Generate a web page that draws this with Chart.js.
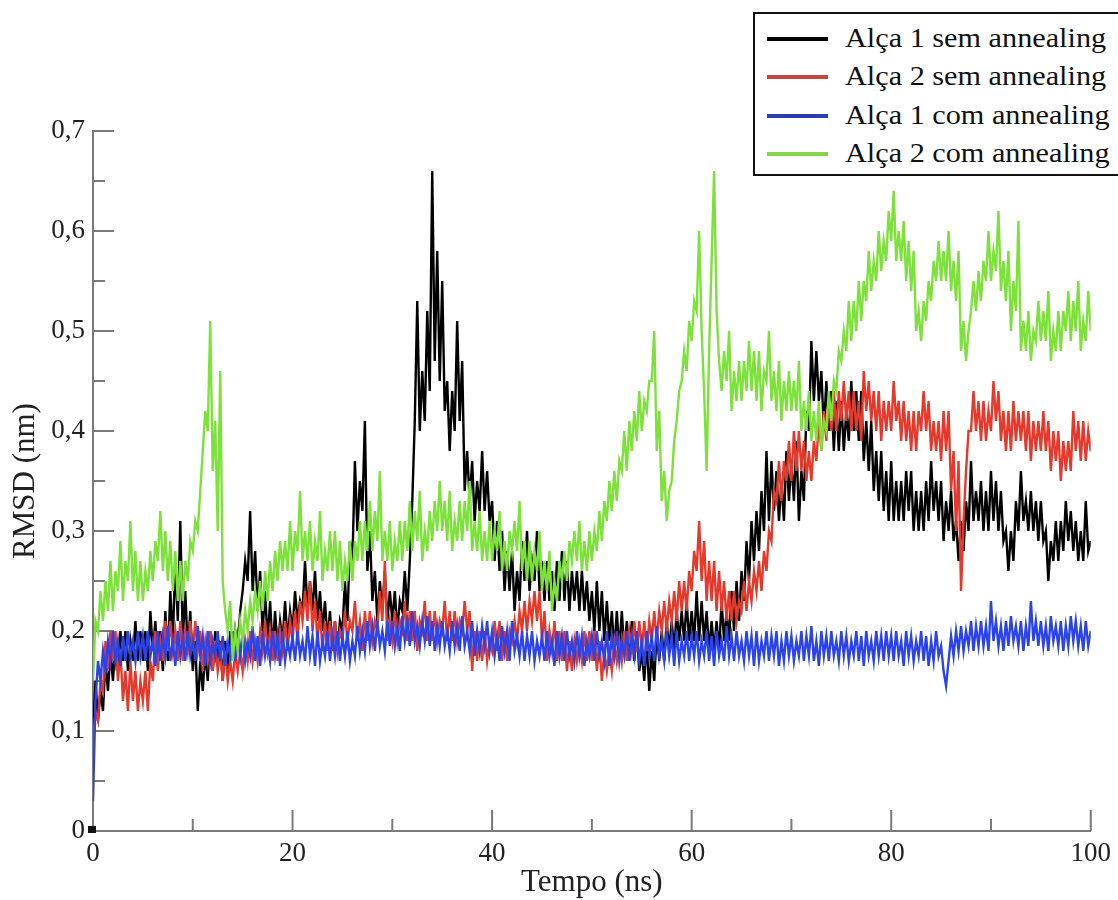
<!DOCTYPE html>
<html>
<head>
<meta charset="utf-8">
<title>RMSD das alças</title>
<script src="https://cdn.jsdelivr.net/npm/chart.js@4/dist/chart.umd.min.js"></script>
<style>
  html, body { margin: 0; padding: 0; background: #fff; overflow: hidden; }
  #wrap { position: relative; width: 1118px; height: 900px; }
  #legend {
    position: absolute; left: 753px; top: 12px; width: 420px; height: 160px;
    border: 2px solid #111; background: #fff;
    font-family: "Liberation Serif", "Times New Roman", serif; font-size: 27px; color: #111;
  }
  .row { position: absolute; left: 0; height: 38px; line-height: 38px; white-space: nowrap; }
  .row .mark { position: absolute; left: 12px; top: 18px; width: 61px; height: 4px; }
  .row .txt { position: absolute; left: 90px; top: 0; transform: scaleX(1.12); transform-origin: 0 0; }
</style>
</head>
<body>
<div id="wrap">
  <canvas id="chart"></canvas>
  <div id="legend"></div>
</div>
<script>
// time axis (ns), one sample every 0.25 ns
const times = Array.from({ length: 401 }, (_, i) => i * 0.25);

const seriesNames = ['Alça 1 sem annealing', 'Alça 2 sem annealing', 'Alça 1 com annealing', 'Alça 2 com annealing'];
const seriesColors = ['#000000', '#e5392c', '#2a44ea', '#7ce23a'];
const legendColors = ['#000000', '#c8453f', '#2a3fb0', '#86d44a'];

// RMSD (nm), one row = 5 ns
const alca1Sem = [
  0.10, 0.15, 0.11, 0.14, 0.12, 0.17, 0.14, 0.18, 0.15, 0.19, 0.16, 0.20, 0.17, 0.20, 0.16, 0.19, 0.17, 0.21, 0.17, 0.20,
  0.17, 0.20, 0.16, 0.22, 0.18, 0.21, 0.17, 0.20, 0.16, 0.22, 0.17, 0.24, 0.19, 0.27, 0.21, 0.31, 0.19, 0.24, 0.18, 0.22,
  0.16, 0.19, 0.12, 0.17, 0.14, 0.18, 0.15, 0.20, 0.16, 0.20, 0.17, 0.19, 0.15, 0.19, 0.16, 0.20, 0.17, 0.20, 0.18, 0.22,
  0.24, 0.27, 0.25, 0.32, 0.24, 0.28, 0.22, 0.26, 0.20, 0.24, 0.19, 0.23, 0.18, 0.22, 0.18, 0.21, 0.19, 0.23, 0.19, 0.22,
  0.20, 0.24, 0.21, 0.23, 0.22, 0.27, 0.22, 0.25, 0.22, 0.26, 0.21, 0.24, 0.20, 0.23, 0.19, 0.22, 0.18, 0.21, 0.18, 0.21,
  0.20, 0.25, 0.21, 0.29, 0.27, 0.37, 0.30, 0.35, 0.32, 0.41, 0.26, 0.30, 0.23, 0.26, 0.21, 0.25, 0.22, 0.26, 0.21, 0.24,
  0.21, 0.24, 0.20, 0.23, 0.22, 0.26, 0.22, 0.27, 0.33, 0.41, 0.53, 0.40, 0.46, 0.41, 0.52, 0.44, 0.66, 0.47, 0.58, 0.45,
  0.55, 0.42, 0.45, 0.38, 0.44, 0.40, 0.51, 0.41, 0.47, 0.34, 0.38, 0.33, 0.37, 0.31, 0.35, 0.32, 0.38, 0.32, 0.36, 0.31,
  0.33, 0.27, 0.31, 0.26, 0.30, 0.24, 0.28, 0.24, 0.28, 0.22, 0.26, 0.23, 0.29, 0.25, 0.30, 0.24, 0.27, 0.25, 0.30, 0.24,
  0.27, 0.23, 0.27, 0.23, 0.26, 0.22, 0.27, 0.23, 0.28, 0.23, 0.27, 0.22, 0.26, 0.23, 0.26, 0.22, 0.26, 0.22, 0.25, 0.21,
  0.24, 0.20, 0.25, 0.20, 0.24, 0.19, 0.23, 0.19, 0.22, 0.18, 0.22, 0.18, 0.22, 0.18, 0.21, 0.17, 0.21, 0.17, 0.20, 0.16,
  0.18, 0.15, 0.19, 0.14, 0.18, 0.15, 0.20, 0.17, 0.20, 0.17, 0.21, 0.18, 0.21, 0.18, 0.22, 0.19, 0.22, 0.19, 0.23, 0.19,
  0.22, 0.19, 0.24, 0.19, 0.23, 0.19, 0.22, 0.18, 0.21, 0.18, 0.21, 0.18, 0.23, 0.19, 0.22, 0.19, 0.24, 0.20, 0.25, 0.21,
  0.26, 0.23, 0.29, 0.25, 0.31, 0.27, 0.32, 0.28, 0.34, 0.30, 0.38, 0.31, 0.37, 0.32, 0.36, 0.31, 0.35, 0.31, 0.38, 0.33,
  0.37, 0.33, 0.39, 0.31, 0.36, 0.33, 0.42, 0.40, 0.49, 0.43, 0.48, 0.43, 0.46, 0.40, 0.45, 0.40, 0.44, 0.38, 0.43, 0.38,
  0.43, 0.38, 0.42, 0.39, 0.45, 0.40, 0.44, 0.39, 0.44, 0.37, 0.41, 0.36, 0.41, 0.34, 0.38, 0.33, 0.38, 0.32, 0.36, 0.31,
  0.37, 0.31, 0.35, 0.31, 0.35, 0.31, 0.36, 0.32, 0.36, 0.30, 0.34, 0.30, 0.34, 0.30, 0.35, 0.31, 0.37, 0.32, 0.35, 0.31,
  0.35, 0.29, 0.33, 0.30, 0.34, 0.29, 0.31, 0.27, 0.31, 0.28, 0.33, 0.30, 0.37, 0.31, 0.34, 0.31, 0.35, 0.30, 0.34, 0.30,
  0.36, 0.31, 0.35, 0.30, 0.34, 0.29, 0.30, 0.26, 0.30, 0.27, 0.33, 0.30, 0.36, 0.31, 0.33, 0.30, 0.34, 0.30, 0.33, 0.29,
  0.33, 0.29, 0.30, 0.25, 0.29, 0.27, 0.31, 0.27, 0.31, 0.28, 0.33, 0.29, 0.32, 0.28, 0.31, 0.27, 0.30, 0.27, 0.33, 0.28,
  0.29
];

const alca2Sem = [
  0.09, 0.12, 0.11, 0.15, 0.14, 0.19, 0.16, 0.20, 0.17, 0.20, 0.15, 0.18, 0.13, 0.16, 0.12, 0.17, 0.13, 0.16, 0.12, 0.15,
  0.13, 0.16, 0.12, 0.17, 0.15, 0.20, 0.16, 0.19, 0.17, 0.21, 0.18, 0.21, 0.18, 0.20, 0.17, 0.21, 0.17, 0.20, 0.18, 0.21,
  0.18, 0.21, 0.18, 0.20, 0.16, 0.19, 0.17, 0.20, 0.16, 0.19, 0.16, 0.18, 0.15, 0.18, 0.15, 0.17, 0.15, 0.18, 0.16, 0.18,
  0.16, 0.19, 0.17, 0.20, 0.17, 0.19, 0.17, 0.20, 0.18, 0.21, 0.18, 0.20, 0.17, 0.20, 0.17, 0.20, 0.18, 0.21, 0.18, 0.21,
  0.19, 0.22, 0.19, 0.23, 0.21, 0.24, 0.21, 0.25, 0.20, 0.23, 0.19, 0.22, 0.18, 0.21, 0.18, 0.21, 0.18, 0.21, 0.18, 0.20,
  0.19, 0.22, 0.19, 0.21, 0.20, 0.23, 0.19, 0.21, 0.18, 0.22, 0.19, 0.22, 0.19, 0.21, 0.20, 0.24, 0.21, 0.27, 0.19, 0.21,
  0.19, 0.22, 0.19, 0.21, 0.20, 0.23, 0.19, 0.22, 0.19, 0.22, 0.18, 0.21, 0.20, 0.23, 0.19, 0.22, 0.19, 0.22, 0.19, 0.21,
  0.20, 0.23, 0.19, 0.22, 0.19, 0.22, 0.19, 0.21, 0.20, 0.23, 0.20, 0.22, 0.16, 0.20, 0.17, 0.20, 0.17, 0.20, 0.17, 0.19,
  0.18, 0.21, 0.18, 0.21, 0.17, 0.20, 0.17, 0.20, 0.19, 0.21, 0.19, 0.22, 0.20, 0.23, 0.20, 0.23, 0.21, 0.24, 0.21, 0.24,
  0.19, 0.22, 0.17, 0.20, 0.18, 0.21, 0.17, 0.20, 0.17, 0.20, 0.16, 0.19, 0.16, 0.19, 0.17, 0.19, 0.17, 0.20, 0.17, 0.20,
  0.17, 0.20, 0.16, 0.19, 0.15, 0.18, 0.16, 0.18, 0.16, 0.19, 0.17, 0.19, 0.17, 0.20, 0.17, 0.20, 0.18, 0.21, 0.18, 0.21,
  0.18, 0.21, 0.18, 0.21, 0.19, 0.22, 0.19, 0.22, 0.20, 0.23, 0.20, 0.23, 0.21, 0.24, 0.21, 0.25, 0.22, 0.25, 0.22, 0.26,
  0.24, 0.28, 0.26, 0.31, 0.25, 0.29, 0.23, 0.27, 0.23, 0.27, 0.22, 0.26, 0.22, 0.25, 0.21, 0.24, 0.21, 0.24, 0.21, 0.23,
  0.22, 0.25, 0.22, 0.25, 0.23, 0.26, 0.24, 0.27, 0.24, 0.28, 0.26, 0.30, 0.29, 0.34, 0.33, 0.37, 0.33, 0.37, 0.35, 0.39,
  0.35, 0.40, 0.36, 0.40, 0.36, 0.39, 0.35, 0.38, 0.35, 0.39, 0.37, 0.41, 0.38, 0.42, 0.39, 0.43, 0.40, 0.44, 0.40, 0.44,
  0.41, 0.45, 0.41, 0.44, 0.40, 0.44, 0.40, 0.43, 0.39, 0.46, 0.42, 0.45, 0.41, 0.44, 0.40, 0.44, 0.39, 0.43, 0.40, 0.43,
  0.40, 0.45, 0.41, 0.43, 0.39, 0.43, 0.39, 0.42, 0.38, 0.42, 0.38, 0.42, 0.40, 0.44, 0.40, 0.43, 0.38, 0.41, 0.38, 0.41,
  0.37, 0.42, 0.38, 0.42, 0.34, 0.38, 0.30, 0.37, 0.24, 0.31, 0.36, 0.40, 0.40, 0.44, 0.40, 0.43, 0.39, 0.43, 0.39, 0.42,
  0.40, 0.45, 0.41, 0.44, 0.39, 0.42, 0.38, 0.42, 0.38, 0.43, 0.39, 0.42, 0.39, 0.42, 0.38, 0.42, 0.37, 0.41, 0.38, 0.41,
  0.38, 0.42, 0.38, 0.41, 0.36, 0.40, 0.37, 0.40, 0.35, 0.39, 0.36, 0.39, 0.36, 0.42, 0.38, 0.41, 0.37, 0.41, 0.37, 0.40,
  0.38
];

const alca1Com = [
  0.03, 0.13, 0.17, 0.15, 0.18, 0.16, 0.19, 0.17, 0.20, 0.17, 0.19, 0.165, 0.195, 0.17, 0.20, 0.175, 0.19, 0.17, 0.20, 0.175,
  0.195, 0.17, 0.20, 0.175, 0.19, 0.165, 0.20, 0.17, 0.195, 0.175, 0.205, 0.17, 0.19, 0.165, 0.20, 0.175, 0.195, 0.17, 0.20, 0.175,
  0.19, 0.17, 0.205, 0.175, 0.195, 0.165, 0.20, 0.17, 0.19, 0.175, 0.20, 0.17, 0.195, 0.165, 0.19, 0.175, 0.20, 0.17, 0.195, 0.175,
  0.20, 0.17, 0.19, 0.175, 0.205, 0.17, 0.195, 0.165, 0.20, 0.175, 0.19, 0.17, 0.20, 0.175, 0.195, 0.165, 0.20, 0.17, 0.19, 0.175,
  0.195, 0.17, 0.20, 0.175, 0.19, 0.17, 0.205, 0.175, 0.195, 0.165, 0.20, 0.17, 0.19, 0.175, 0.20, 0.17, 0.195, 0.175, 0.20, 0.17,
  0.195, 0.175, 0.20, 0.17, 0.19, 0.175, 0.205, 0.18, 0.20, 0.18, 0.21, 0.185, 0.205, 0.18, 0.21, 0.185, 0.20, 0.18, 0.21, 0.185,
  0.21, 0.185, 0.205, 0.18, 0.215, 0.19, 0.21, 0.185, 0.22, 0.19, 0.205, 0.185, 0.21, 0.19, 0.215, 0.185, 0.21, 0.18, 0.205, 0.185,
  0.21, 0.185, 0.20, 0.18, 0.21, 0.185, 0.205, 0.18, 0.215, 0.185, 0.20, 0.18, 0.21, 0.175, 0.20, 0.18, 0.205, 0.185, 0.21, 0.18,
  0.20, 0.175, 0.195, 0.17, 0.205, 0.18, 0.20, 0.17, 0.21, 0.18, 0.195, 0.175, 0.20, 0.17, 0.195, 0.175, 0.20, 0.17, 0.19, 0.175,
  0.195, 0.17, 0.20, 0.175, 0.19, 0.165, 0.20, 0.175, 0.195, 0.17, 0.20, 0.175, 0.19, 0.17, 0.20, 0.175, 0.195, 0.165, 0.19, 0.175,
  0.195, 0.17, 0.20, 0.175, 0.19, 0.17, 0.20, 0.165, 0.195, 0.175, 0.20, 0.17, 0.19, 0.175, 0.20, 0.17, 0.195, 0.175, 0.20, 0.17,
  0.19, 0.165, 0.20, 0.175, 0.195, 0.17, 0.205, 0.175, 0.19, 0.17, 0.20, 0.175, 0.195, 0.165, 0.20, 0.17, 0.19, 0.175, 0.20, 0.17,
  0.195, 0.175, 0.20, 0.17, 0.19, 0.175, 0.20, 0.17, 0.195, 0.165, 0.20, 0.175, 0.19, 0.17, 0.205, 0.175, 0.195, 0.17, 0.20, 0.175,
  0.19, 0.17, 0.20, 0.175, 0.195, 0.165, 0.20, 0.17, 0.19, 0.175, 0.20, 0.17, 0.195, 0.175, 0.20, 0.165, 0.19, 0.17, 0.20, 0.175,
  0.195, 0.17, 0.19, 0.175, 0.20, 0.17, 0.195, 0.175, 0.205, 0.17, 0.19, 0.165, 0.20, 0.175, 0.195, 0.17, 0.20, 0.175, 0.19, 0.17,
  0.20, 0.175, 0.195, 0.17, 0.19, 0.175, 0.20, 0.17, 0.195, 0.165, 0.20, 0.175, 0.19, 0.17, 0.20, 0.175, 0.195, 0.17, 0.20, 0.175,
  0.195, 0.17, 0.20, 0.175, 0.19, 0.165, 0.20, 0.175, 0.195, 0.17, 0.19, 0.175, 0.20, 0.17, 0.195, 0.165, 0.19, 0.17, 0.20, 0.175,
  0.185, 0.16, 0.145, 0.17, 0.195, 0.175, 0.20, 0.18, 0.205, 0.18, 0.20, 0.185, 0.21, 0.18, 0.205, 0.185, 0.21, 0.185, 0.205, 0.18,
  0.23, 0.19, 0.21, 0.185, 0.205, 0.18, 0.21, 0.185, 0.215, 0.19, 0.205, 0.185, 0.21, 0.18, 0.205, 0.185, 0.23, 0.19, 0.21, 0.185,
  0.21, 0.185, 0.205, 0.18, 0.215, 0.19, 0.205, 0.185, 0.21, 0.18, 0.205, 0.185, 0.215, 0.19, 0.21, 0.185, 0.205, 0.18, 0.21, 0.185,
  0.20
];

const alca2Com = [
  0.15, 0.21, 0.20, 0.24, 0.21, 0.25, 0.22, 0.27, 0.22, 0.26, 0.24, 0.29, 0.23, 0.27, 0.25, 0.31, 0.24, 0.28, 0.23, 0.27,
  0.23, 0.26, 0.24, 0.28, 0.25, 0.29, 0.27, 0.32, 0.26, 0.30, 0.25, 0.29, 0.24, 0.28, 0.23, 0.27, 0.23, 0.27, 0.25, 0.29,
  0.28, 0.31, 0.30, 0.34, 0.38, 0.42, 0.40, 0.51, 0.36, 0.41, 0.30, 0.46, 0.25, 0.22, 0.20, 0.23, 0.17, 0.20, 0.18, 0.21,
  0.19, 0.22, 0.20, 0.23, 0.21, 0.24, 0.22, 0.25, 0.22, 0.26, 0.23, 0.27, 0.24, 0.28, 0.25, 0.29, 0.26, 0.29, 0.26, 0.31,
  0.26, 0.30, 0.28, 0.34, 0.27, 0.30, 0.27, 0.31, 0.26, 0.29, 0.27, 0.32, 0.25, 0.28, 0.26, 0.30, 0.26, 0.30, 0.25, 0.29,
  0.24, 0.27, 0.25, 0.29, 0.25, 0.29, 0.27, 0.31, 0.27, 0.31, 0.28, 0.33, 0.28, 0.32, 0.29, 0.36, 0.27, 0.30, 0.27, 0.31,
  0.26, 0.29, 0.27, 0.31, 0.27, 0.31, 0.28, 0.33, 0.28, 0.32, 0.29, 0.34, 0.27, 0.30, 0.28, 0.32, 0.29, 0.33, 0.30, 0.35,
  0.30, 0.33, 0.29, 0.34, 0.28, 0.31, 0.29, 0.33, 0.29, 0.33, 0.30, 0.35, 0.28, 0.31, 0.28, 0.32, 0.27, 0.30, 0.27, 0.31,
  0.27, 0.30, 0.28, 0.32, 0.26, 0.29, 0.26, 0.30, 0.28, 0.31, 0.28, 0.33, 0.26, 0.29, 0.25, 0.29, 0.25, 0.28, 0.26, 0.30,
  0.24, 0.27, 0.24, 0.28, 0.22, 0.25, 0.23, 0.27, 0.25, 0.28, 0.25, 0.29, 0.27, 0.30, 0.27, 0.31, 0.26, 0.29, 0.26, 0.30,
  0.27, 0.30, 0.28, 0.32, 0.29, 0.33, 0.31, 0.35, 0.32, 0.36, 0.33, 0.37, 0.36, 0.40, 0.36, 0.41, 0.38, 0.42, 0.39, 0.44,
  0.40, 0.43, 0.42, 0.45, 0.45, 0.50, 0.38, 0.42, 0.33, 0.36, 0.31, 0.34, 0.35, 0.39, 0.41, 0.44, 0.45, 0.48, 0.46, 0.51,
  0.49, 0.53, 0.52, 0.60, 0.50, 0.44, 0.36, 0.48, 0.57, 0.66, 0.52, 0.47, 0.44, 0.48, 0.45, 0.50, 0.42, 0.46, 0.43, 0.47,
  0.43, 0.47, 0.44, 0.49, 0.44, 0.48, 0.43, 0.48, 0.42, 0.46, 0.45, 0.50, 0.43, 0.46, 0.42, 0.47, 0.41, 0.45, 0.42, 0.46,
  0.42, 0.45, 0.42, 0.47, 0.40, 0.43, 0.40, 0.44, 0.39, 0.42, 0.39, 0.43, 0.38, 0.41, 0.40, 0.44, 0.41, 0.45, 0.44, 0.48,
  0.47, 0.50, 0.48, 0.53, 0.49, 0.53, 0.50, 0.55, 0.51, 0.55, 0.53, 0.58, 0.54, 0.57, 0.55, 0.60, 0.56, 0.59, 0.57, 0.62,
  0.59, 0.64, 0.57, 0.60, 0.57, 0.61, 0.55, 0.59, 0.54, 0.58, 0.50, 0.52, 0.49, 0.53, 0.51, 0.55, 0.53, 0.57, 0.55, 0.59,
  0.55, 0.58, 0.55, 0.60, 0.54, 0.57, 0.53, 0.58, 0.48, 0.51, 0.47, 0.50, 0.52, 0.55, 0.52, 0.56, 0.53, 0.57, 0.55, 0.60,
  0.55, 0.58, 0.56, 0.62, 0.54, 0.57, 0.53, 0.58, 0.50, 0.55, 0.52, 0.61, 0.48, 0.51, 0.48, 0.52, 0.47, 0.50, 0.49, 0.53,
  0.49, 0.52, 0.49, 0.54, 0.47, 0.50, 0.48, 0.52, 0.48, 0.52, 0.50, 0.54, 0.49, 0.53, 0.50, 0.55, 0.48, 0.51, 0.49, 0.54,
  0.50
];

const seriesValues = [alca1Sem, alca2Sem, alca1Com, alca2Com];

// axis ticks
const xMajorTicks = [0, 20, 40, 60, 80, 100];
const xMinorTicks = [10, 30, 50, 70, 90];
const yMajorTicks = [0, 0.1, 0.2, 0.3, 0.4, 0.5, 0.6, 0.7];
const yMinorTicks = [0.05, 0.15, 0.25, 0.35, 0.45, 0.55, 0.65];

const serif = '"Liberation Serif", "Times New Roman", serif';
const axisGray = '#7a7a7a';

// ticks pointing into the plot, like the original (xmgrace style)
const innerTicks = {
  id: 'innerTicks',
  beforeDatasetsDraw(chart) {
    const { ctx, scales: { x, y } } = chart;
    const x0 = x.getPixelForValue(0);
    const y0 = y.getPixelForValue(0);
    ctx.save();
    ctx.strokeStyle = axisGray;
    ctx.lineWidth = 2;
    ctx.beginPath();
    xMajorTicks.forEach(v => { const p = x.getPixelForValue(v); ctx.moveTo(p, y0); ctx.lineTo(p, y0 - 21); });
    xMinorTicks.forEach(v => { const p = x.getPixelForValue(v); ctx.moveTo(p, y0); ctx.lineTo(p, y0 - 12); });
    yMajorTicks.forEach(v => { const p = y.getPixelForValue(v); ctx.moveTo(x0, p); ctx.lineTo(x0 + 21, p); });
    yMinorTicks.forEach(v => { const p = y.getPixelForValue(v); ctx.moveTo(x0, p); ctx.lineTo(x0 + 12, p); });
    ctx.stroke();
    ctx.restore();
  },
  afterDraw(chart) {
    const { ctx, scales: { x, y } } = chart;
    ctx.save();
    ctx.fillStyle = '#111';
    ctx.fillRect(x.getPixelForValue(0) - 5, y.getPixelForValue(0) - 5, 8, 7);
    ctx.restore();
  }
};

const datasets = seriesValues.map((vals, k) => ({
  label: seriesNames[k],
  data: times.map((t, i) => ({ x: t, y: vals[i] })),
  borderColor: seriesColors[k],
  borderWidth: 2.4,
  pointRadius: 0,
  tension: 0,
  fill: false,
  order: 4 - k
}));

new Chart(document.getElementById('chart'), {
  type: 'line',
  data: { datasets },
  options: {
    responsive: true,
    maintainAspectRatio: false,
    animation: false,
    layout: { padding: { top: 131, right: 25, bottom: 0, left: 0 } },
    plugins: { legend: { display: false }, tooltip: { enabled: false } },
    scales: {
      x: {
        type: 'linear', min: 0, max: 100,
        grid: { display: false, drawTicks: false },
        border: { display: true, color: axisGray, width: 2 },
        ticks: {
          stepSize: 20, maxRotation: 0, padding: 7, color: '#222',
          font: { family: serif, size: 27 },
          callback: v => String(v)
        },
        title: {
          display: true, text: 'Tempo (ns)', color: '#222',
          font: { family: serif, size: 31, lineHeight: 1 },
          padding: { top: 0, bottom: 2 }
        },
        afterFit: s => { s.height = 69; }
      },
      y: {
        min: 0, max: 0.7,
        grid: { display: false, drawTicks: false },
        border: { display: true, color: axisGray, width: 2 },
        ticks: {
          stepSize: 0.1, padding: 8, color: '#222',
          font: { family: serif, size: 27 },
          callback: v => v === 0 ? '0' : v.toFixed(1).replace('.', ',')
        },
        title: {
          display: true, text: 'RMSD (nm)', color: '#222',
          font: { family: serif, size: 31, lineHeight: 1 },
          padding: { top: 10, bottom: 0 }
        },
        afterFit: s => { s.width = 93; }
      }
    }
  },
  plugins: [innerTicks]
});

// legend box, top right, as in the figure
const legend = document.getElementById('legend');
seriesNames.forEach((name, k) => {
  const row = document.createElement('div');
  row.className = 'row';
  row.style.top = (5 + k * 38.3) + 'px';
  row.style.width = '400px';
  const mark = document.createElement('div');
  mark.className = 'mark';
  mark.style.background = legendColors[k];
  const txt = document.createElement('span');
  txt.className = 'txt';
  txt.textContent = name;
  row.appendChild(mark);
  row.appendChild(txt);
  legend.appendChild(row);
});
</script>
</body>
</html>
